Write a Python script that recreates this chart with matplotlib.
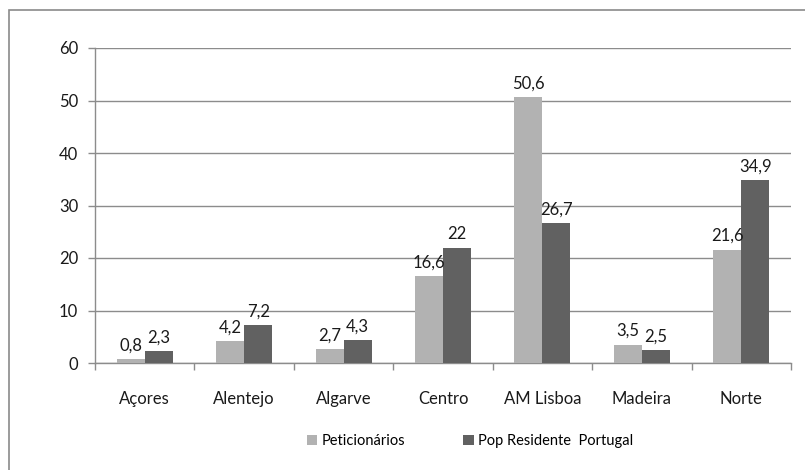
import matplotlib
matplotlib.use("Agg")
import matplotlib.pyplot as plt
from matplotlib.patches import Patch, Rectangle
import numpy as np

categories = ["Açores", "Alentejo", "Algarve", "Centro", "AM Lisboa", "Madeira", "Norte"]
peticionarios = [0.8, 4.2, 2.7, 16.6, 50.6, 3.5, 21.6]
pop_residente = [2.3, 7.2, 4.3, 22, 26.7, 2.5, 34.9]
series_names = ["Peticionários", "Pop Residente  Portugal"]
yticks = [0, 10, 20, 30, 40, 50, 60]

light = "#B2B2B2"
dark = "#616161"
grid_c = "#8C8C8C"

plt.rcParams["font.family"] = ["Lato", "DejaVu Sans"]

W, H = 805, 470
fig = plt.figure(figsize=(W / 100, H / 100), dpi=100)

# outer border (left and top visible)
fig.patches.append(Rectangle((9 / W, -0.1), 1.2, 1 - 10 / H + 0.1, transform=fig.transFigure,
                             fill=False, edgecolor="#8A8A8A", linewidth=1.2))

ax = fig.add_axes([95 / W, 1 - 363 / H, (791 - 95) / W, (363 - 48) / H])

x = np.arange(len(categories))
bw = 0.282
b1 = ax.bar(x - bw / 2, peticionarios, bw, color=light, zorder=3)
b2 = ax.bar(x + bw / 2, pop_residente, bw, color=dark, zorder=3)

def fmt(v):
    s = ("%g" % v).replace(".", ",")
    return s

for bars, vals in ((b1, peticionarios), (b2, pop_residente)):
    for r, v in zip(bars, vals):
        ax.annotate(fmt(v), (r.get_x() + r.get_width() / 2, v), xytext=(0, 4),
                    textcoords="offset points", ha="center", va="bottom",
                    fontsize=12, color="#1a1a1a", zorder=5)

ax.set_xlim(-0.5, len(categories) - 0.5)
ax.set_ylim(0, 60)
ax.set_yticks(yticks)
ax.set_yticklabels([str(t) for t in yticks])
ax.yaxis.grid(True, color=grid_c, linewidth=1.0, zorder=0)
ax.set_axisbelow(True)

ax.set_xticks(x)
ax.set_xticklabels(categories)
ax.set_xticks(np.arange(len(categories) + 1) - 0.5, minor=True)
ax.tick_params(axis="x", which="major", length=0, pad=20, labelsize=12, labelcolor="#1a1a1a")
ax.tick_params(axis="x", which="minor", length=5, width=1, color=grid_c, direction="out")
ax.tick_params(axis="y", length=5, width=1, color=grid_c, pad=7, labelsize=12, labelcolor="#1a1a1a")

for s in ("top", "right"):
    ax.spines[s].set_visible(False)
for s in ("left", "bottom"):
    ax.spines[s].set_color(grid_c)
    ax.spines[s].set_linewidth(1.0)

handles = [Patch(facecolor=light, edgecolor="none"), Patch(facecolor=dark, edgecolor="none")]
fig.legend(handles, series_names, loc="center", bbox_to_anchor=(470 / W, 1 - 441 / H),
           ncol=2, frameon=False, fontsize=10.5, handlelength=0.7, handleheight=0.7,
           handletextpad=0.3, columnspacing=4.0)

fig.savefig("out.png", dpi=100)
